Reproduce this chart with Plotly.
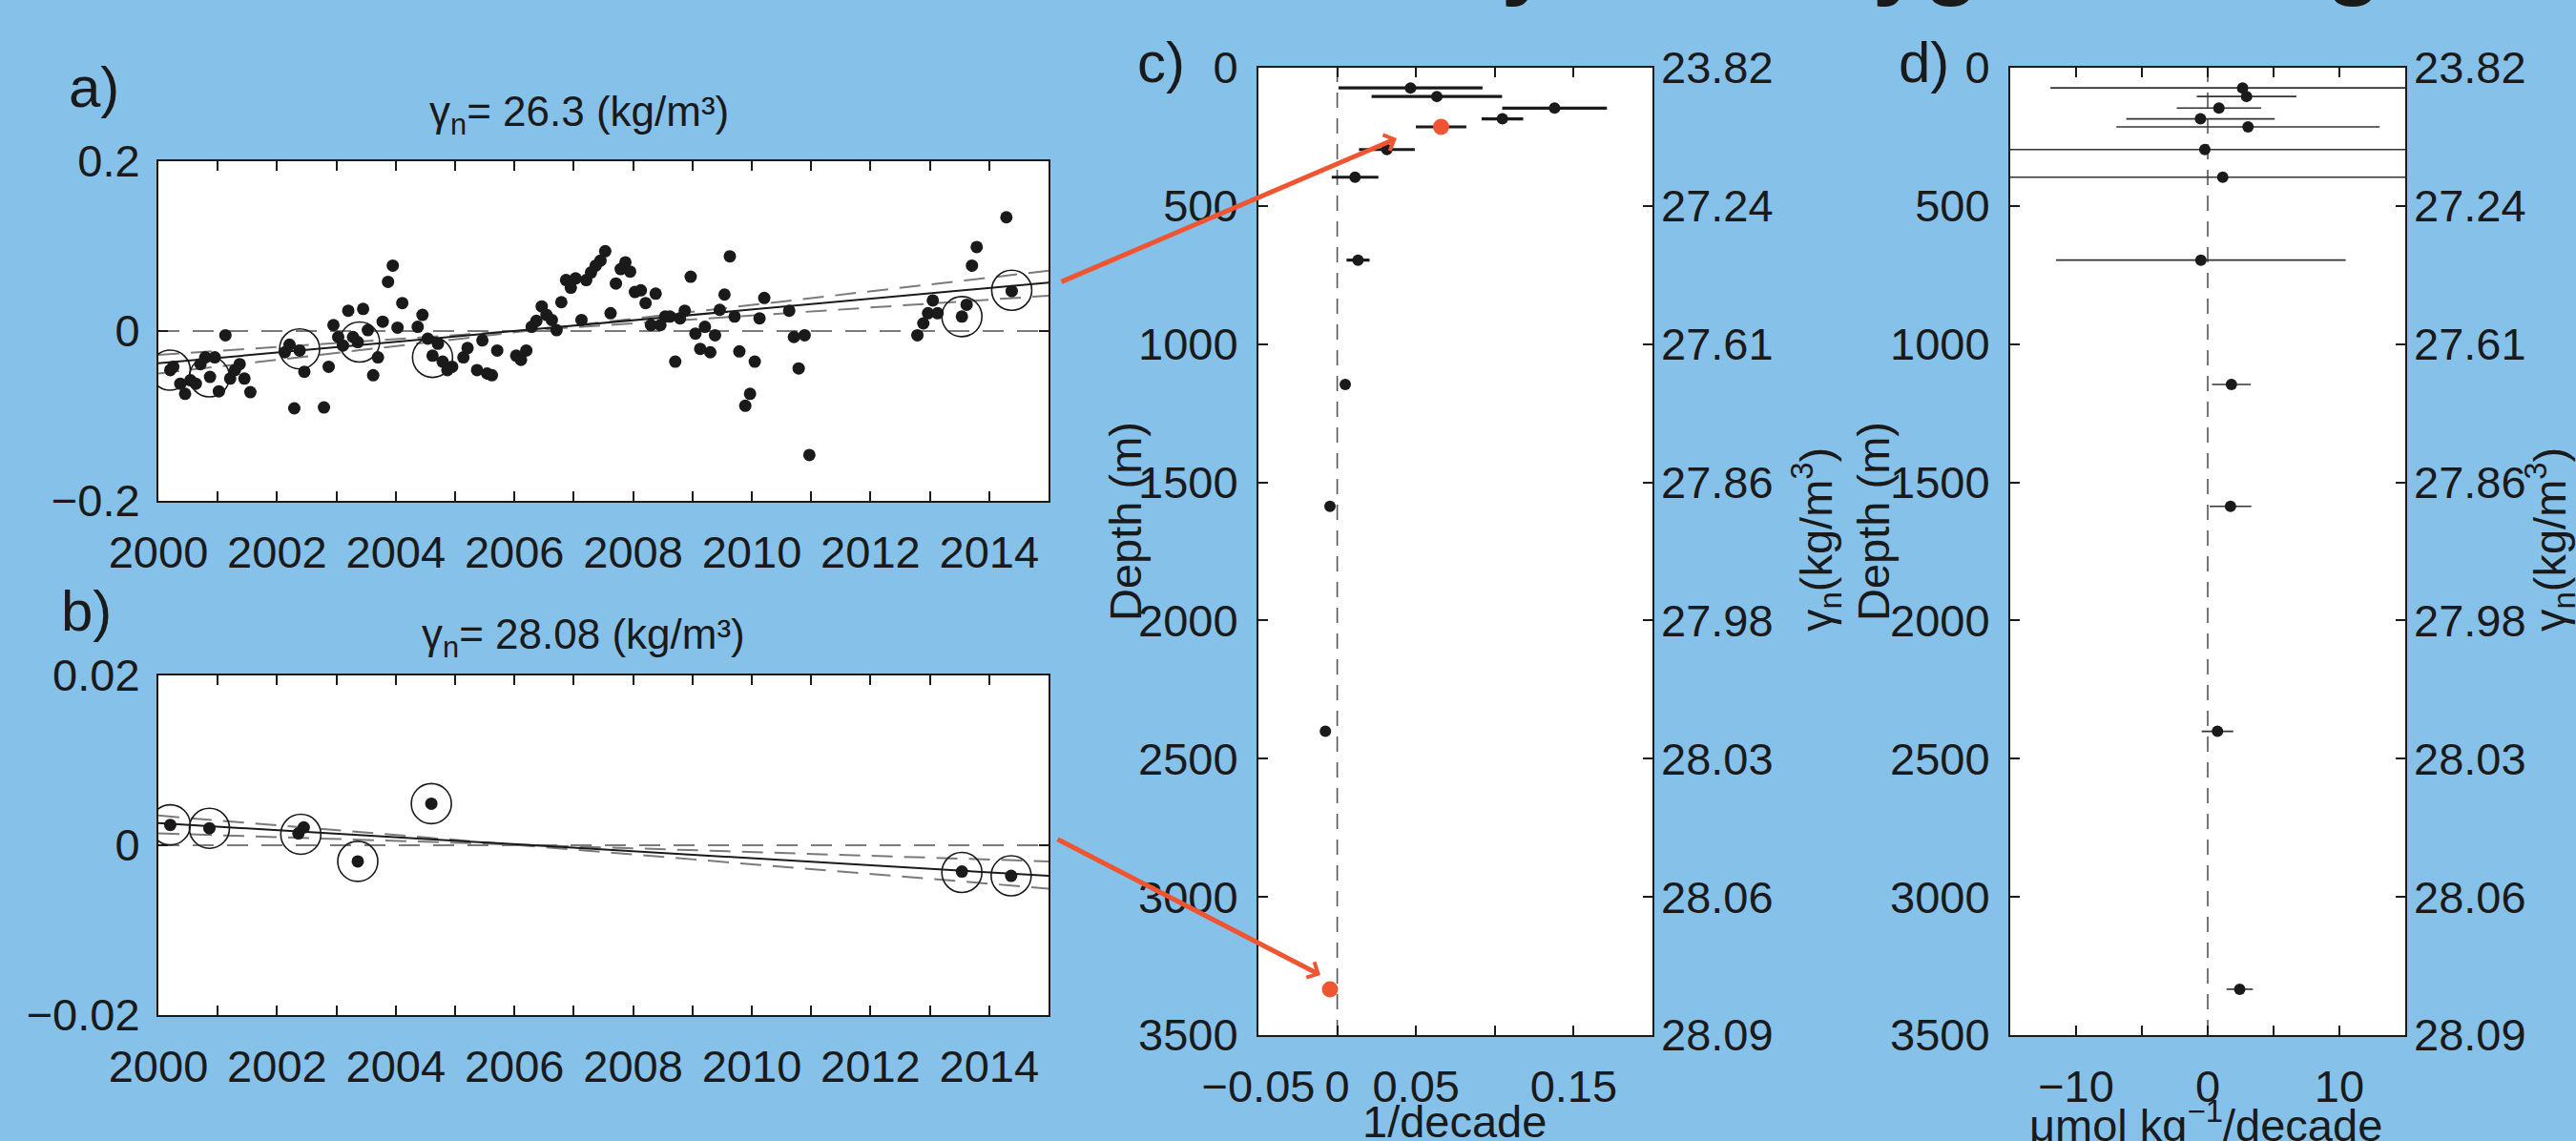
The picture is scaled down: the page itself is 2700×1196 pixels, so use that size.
import plotly.graph_objects as go

W, H = 2700, 1196
FONT = "Liberation Sans, Arial, Helvetica, sans-serif"
INK = "#1a1a1a"
BG = "#86C1EA"
RED = "#EE5530"

# ---------------- Panel a : gamma_n = 26.3 ----------------
a_years = [2000.20, 2000.25, 2000.37, 2000.45, 2000.54, 2000.63, 2000.71, 2000.79, 2000.87, 2000.95,
           2001.02, 2001.13, 2001.21, 2001.29, 2001.37, 2001.45, 2001.55, 2002.13, 2002.21, 2002.29,
           2002.38, 2002.46, 2002.79, 2002.87, 2002.95, 2003.03, 2003.11, 2003.20, 2003.28, 2003.36,
           2003.45, 2003.53, 2003.62, 2003.70, 2003.78, 2003.87, 2003.95, 2004.03, 2004.11, 2004.37,
           2004.45, 2004.54, 2004.62, 2004.71, 2004.79, 2004.87, 2004.95, 2005.14, 2005.21, 2005.37,
           2005.46, 2005.54, 2005.62, 2005.71, 2006.03, 2006.11, 2006.20, 2006.29, 2006.37, 2006.46,
           2006.54, 2006.63, 2006.71, 2006.79, 2006.87, 2006.95, 2007.03, 2007.13, 2007.21, 2007.29,
           2007.37, 2007.45, 2007.53, 2007.62, 2007.71, 2007.79, 2007.87, 2007.95, 2008.03, 2008.13,
           2008.21, 2008.30, 2008.38, 2008.46, 2008.54, 2008.62, 2008.71, 2008.79, 2008.87, 2008.97,
           2009.05, 2009.13, 2009.21, 2009.30, 2009.38, 2009.46, 2009.54, 2009.63, 2009.71, 2009.79,
           2009.89, 2009.97, 2010.05, 2010.13, 2010.21, 2010.63, 2010.71, 2010.79, 2010.89, 2010.97,
           2012.79, 2012.89, 2012.97, 2013.05, 2013.13, 2013.54, 2013.62, 2013.71, 2013.79, 2014.29, 2014.38]
a_vals = [-0.046, -0.042, -0.062, -0.074, -0.058, -0.062, -0.039, -0.031, -0.054, -0.031,
          -0.071, -0.005, -0.056, -0.046, -0.039, -0.056, -0.072, -0.025, -0.016, -0.091,
          -0.023, -0.048, -0.090, -0.042, 0.007, -0.007, -0.017, 0.024, -0.007, -0.013,
          0.026, 0.001, -0.052, -0.031, 0.011, 0.058, 0.077, 0.004, 0.033, 0.005,
          0.019, -0.009, -0.029, -0.015, -0.036, -0.046, -0.042, -0.031, -0.020, -0.046,
          -0.011, -0.050, -0.052, -0.023, -0.029, -0.034, -0.023, 0.005, 0.012, 0.029,
          0.019, 0.013, 0.001, 0.034, 0.060, 0.051, 0.062, 0.013, 0.060, 0.069,
          0.077, 0.083, 0.094, 0.021, 0.056, 0.073, 0.081, 0.070, 0.046, 0.048,
          0.033, 0.007, 0.044, 0.007, 0.017, 0.017, -0.036, 0.015, 0.024, 0.064,
          -0.003, -0.021, 0.005, -0.025, -0.005, 0.025, 0.043, 0.088, 0.017, -0.024,
          -0.088, -0.074, -0.036, 0.015, 0.039, 0.024, -0.007, -0.044, -0.005, -0.146,
          -0.005, 0.009, 0.021, 0.036, 0.021, 0.017, 0.031, 0.077, 0.099, 0.134, 0.047]
a_circle_years = [2000.20, 2000.86, 2002.38, 2003.39, 2004.62, 2013.54, 2014.38]
a_circle_vals = [-0.046, -0.054, -0.021, -0.013, -0.031, 0.017, 0.048]
trend_years = [2000, 2015]
a_trend = [-0.038, 0.057]
a_bound1 = [-0.028, 0.0416]
a_bound2 = [-0.050, 0.071]

# ---------------- Panel b : gamma_n = 28.08 ----------------
b_years = [2000.20, 2000.86, 2002.36, 2002.45, 2003.36, 2004.60, 2013.54, 2014.37]
b_vals = [0.0024, 0.0020, 0.0014, 0.0021, -0.0019, 0.0049, -0.0031, -0.0036]
b_circle_years = [2000.20, 2000.86, 2002.40, 2003.36, 2004.60, 2013.54, 2014.37]
b_circle_vals = [0.0024, 0.0020, 0.0013, -0.0019, 0.0049, -0.0032, -0.0036]
b_trend = [0.0026, -0.0036]
b_bound1 = [0.0035, -0.0051]
b_bound2 = [0.0014, -0.0019]

year_ticks = list(range(2000, 2016))
year_labels = [str(y) if (y % 2 == 0 and y < 2015) else "" for y in year_ticks]

# ---------------- Panels c, d : trends vs depth ----------------
depth = [73, 104, 146, 185, 214, 296, 396, 696, 1146, 1587, 2401, 3334]
highlight = [0, 0, 0, 0, 1, 0, 0, 0, 0, 0, 0, 1]
c_trend = [0.0465, 0.0632, 0.1379, 0.1048, 0.0659, 0.0315, 0.0113, 0.0132, 0.0051, -0.0046, -0.0075, -0.0046]
c_err = [0.0457, 0.0414, 0.0332, 0.0132, 0.0160, 0.0177, 0.0148, 0.0073, 0.0, 0.0, 0.0, 0.0012]
d_trend = [2.65, 2.95, 0.85, -0.55, 3.06, -0.22, 1.14, -0.52, 1.80, 1.73, 0.74, 2.43]
d_err = [14.6, 3.78, 3.2, 5.64, 10.0, 25.0, 25.0, 11.0, 1.47, 1.58, 1.2, 1.0]

depth_ticks = [0, 500, 1000, 1500, 2000, 2500, 3000, 3500]
gamma_labels = ["23.82", "27.24", "27.61", "27.86", "27.98", "28.03", "28.06", "28.09"]
c_xticks = [-0.05, 0, 0.05, 0.1, 0.15]
c_xlabels = ["\u22120.05", "0", "0.05", "", "0.15"]
d_xticks = [-10, -5, 0, 5, 10]
d_xlabels = ["\u221210", "", "0", "", "10"]


def px_x(p):
    return p / W


def px_y(p):
    return 1 - p / H


fig = go.Figure()

dash_gray = dict(color="#7a7a7a", width=2, dash="22px,12px")

# panel a traces
for b in (a_bound1, a_bound2):
    fig.add_trace(go.Scatter(x=trend_years, y=b, mode="lines", line=dash_gray,
                             xaxis="x", yaxis="y", hoverinfo="skip"))
fig.add_trace(go.Scatter(x=trend_years, y=a_trend, mode="lines", line=dict(color=INK, width=2),
                         xaxis="x", yaxis="y"))
fig.add_trace(go.Scatter(x=a_years, y=a_vals, mode="markers",
                         marker=dict(color=INK, size=13, line=dict(width=0)), xaxis="x", yaxis="y"))
fig.add_trace(go.Scatter(x=a_circle_years, y=a_circle_vals, mode="markers",
                         marker=dict(symbol="circle-open", color=INK, size=42, line=dict(width=1.6, color=INK)),
                         xaxis="x", yaxis="y"))

# panel b traces
for b in (b_bound1, b_bound2):
    fig.add_trace(go.Scatter(x=trend_years, y=b, mode="lines", line=dash_gray,
                             xaxis="x2", yaxis="y2", hoverinfo="skip"))
fig.add_trace(go.Scatter(x=trend_years, y=b_trend, mode="lines", line=dict(color=INK, width=2),
                         xaxis="x2", yaxis="y2"))
fig.add_trace(go.Scatter(x=b_years, y=b_vals, mode="markers",
                         marker=dict(color=INK, size=13, line=dict(width=0)), xaxis="x2", yaxis="y2"))
fig.add_trace(go.Scatter(x=b_circle_years, y=b_circle_vals, mode="markers",
                         marker=dict(symbol="circle-open", color=INK, size=42, line=dict(width=1.6, color=INK)),
                         xaxis="x2", yaxis="y2"))

# panel c traces
c_black = [i for i, h in enumerate(highlight) if not h]
c_red = [i for i, h in enumerate(highlight) if h]
fig.add_trace(go.Scatter(x=[c_trend[i] for i in c_black], y=[depth[i] for i in c_black], mode="markers",
                         marker=dict(color=INK, size=12, line=dict(width=0)),
                         error_x=dict(type="data", array=[c_err[i] for i in c_black], color=INK,
                                      thickness=3.2, width=0),
                         xaxis="x3", yaxis="y3"))
fig.add_trace(go.Scatter(x=[c_trend[i] for i in c_red], y=[depth[i] for i in c_red], mode="markers",
                         marker=dict(color=RED, size=17, line=dict(width=0)),
                         error_x=dict(type="data", array=[c_err[i] for i in c_red], color=INK,
                                      thickness=3.2, width=0),
                         xaxis="x3", yaxis="y3"))
fig.add_trace(go.Scatter(x=[0], y=[0], mode="markers", marker=dict(opacity=0), hoverinfo="skip",
                         xaxis="x3", yaxis="y5"))

# panel d traces
fig.add_trace(go.Scatter(x=d_trend, y=depth, mode="markers",
                         marker=dict(color=INK, size=12, line=dict(width=0)),
                         error_x=dict(type="data", array=d_err, color="#333333", thickness=1.6, width=0),
                         xaxis="x4", yaxis="y4"))
fig.add_trace(go.Scatter(x=[0], y=[0], mode="markers", marker=dict(opacity=0), hoverinfo="skip",
                         xaxis="x4", yaxis="y6"))

tickfont = dict(family=FONT, size=47, color=INK)
base = dict(showline=True, linecolor=INK, linewidth=2, mirror="ticks", ticks="inside", ticklen=10,
            tickwidth=2, tickcolor=INK, showgrid=False, zeroline=False, tickfont=tickfont, fixedrange=True,
            automargin=False)

xa = [px_x(166), px_x(1099)]
ya = [px_y(525), px_y(169)]
yb = [px_y(1064), px_y(708)]
xc = [px_x(1319), px_x(1732)]
xd = [px_x(2107), px_x(2521)]
ycd = [px_y(1085), px_y(71)]

fig.update_layout(
    template="none",
    width=W, height=H,
    margin=dict(l=0, r=0, t=0, b=0, pad=0),
    paper_bgcolor=BG, plot_bgcolor="white",
    showlegend=False,
    font=dict(family=FONT, color=INK),
    xaxis=dict(base, domain=xa, anchor="y", range=[2000, 2015], tickvals=year_ticks, ticktext=year_labels,
               ticklabelstandoff=12),
    yaxis=dict(base, domain=ya, anchor="x", range=[-0.2, 0.2], tickvals=[-0.2, 0, 0.2],
               ticktext=["\u22120.2", "0", "0.2"], ticklabelstandoff=8),
    xaxis2=dict(base, domain=xa, anchor="y2", range=[2000, 2015], tickvals=year_ticks, ticktext=year_labels,
                ticklabelstandoff=12),
    yaxis2=dict(base, domain=yb, anchor="x2", range=[-0.02, 0.02], tickvals=[-0.02, 0, 0.02],
                ticktext=["\u22120.02", "0", "0.02"], ticklabelstandoff=8),
    xaxis3=dict(base, domain=xc, anchor="y3", range=[-0.05, 0.2], tickvals=c_xticks, ticktext=c_xlabels,
                ticklabelstandoff=12),
    yaxis3=dict(base, domain=ycd, anchor="x3", range=[3500, 0], tickvals=depth_ticks,
                ticklabelstandoff=10),
    yaxis5=dict(base, overlaying="y3", side="right", anchor="x3", range=[3500, 0], tickvals=depth_ticks,
                ticktext=gamma_labels, showline=False, mirror=False, ticklabelstandoff=8),
    xaxis4=dict(base, domain=xd, anchor="y4", range=[-15, 15], tickvals=d_xticks, ticktext=d_xlabels,
                ticklabelstandoff=12),
    yaxis4=dict(base, domain=ycd, anchor="x4", range=[3500, 0], tickvals=depth_ticks,
                ticklabelstandoff=10),
    yaxis6=dict(base, overlaying="y4", side="right", anchor="x4", range=[3500, 0], tickvals=depth_ticks,
                ticktext=gamma_labels, showline=False, mirror=False, ticklabelstandoff=8),
)

# reference lines
zero_dash = dict(color="#7a7a7a", width=2, dash="22px,14px")
fig.add_shape(type="line", xref="x domain", yref="y", x0=0, x1=1, y0=0, y1=0, line=zero_dash, layer="below")
fig.add_shape(type="line", xref="x2 domain", yref="y2", x0=0, x1=1, y0=0, y1=0, line=zero_dash, layer="below")
vdash = dict(color="#555555", width=1.6, dash="16px,11px")
fig.add_shape(type="line", xref="x3", yref="y3 domain", x0=0, x1=0, y0=0, y1=1, line=vdash, layer="below")
fig.add_shape(type="line", xref="x4", yref="y4 domain", x0=0, x1=0, y0=0, y1=1, line=vdash, layer="below")


def ann(text, x, y, size, xanchor="center", yanchor="middle", angle=0, **kw):
    fig.add_annotation(text=text, x=px_x(x), y=px_y(y), xref="paper", yref="paper",
                       xanchor=xanchor, yanchor=yanchor, textangle=angle, showarrow=False,
                       font=dict(family=FONT, size=size, color=INK), **kw)


ann("a)", 70, 92, 60, xanchor="left")
ann("b)", 62, 640, 60, xanchor="left")
ann("c)", 1190, 66, 60, xanchor="left")
ann("d)", 1988, 66, 60, xanchor="left")
ann("\u03b3<sub>n</sub>= 26.3 (kg/m\u00b3)", 607, 120, 44)
ann("\u03b3<sub>n</sub>= 28.08 (kg/m\u00b3)", 611, 668, 44)
ann("Depth (m)", 1179, 547, 47, angle=-90)
ann("\u03b3<sub>n</sub>(kg/m<sup>3</sup>)", 1903, 566, 47, angle=-90)
ann("Depth (m)", 1963, 547, 47, angle=-90)
ann("\u03b3<sub>n</sub>(kg/m<sup>3</sup>)", 2672, 566, 47, angle=-90)
ann("1/decade", 1525, 1175, 47)
ann("\u03bcmol kg<sup>\u22121</sup>/decade", 2312, 1176, 47)

# large slide title, mostly above the visible area (tall box keeps it rendered)
fig.add_annotation(text="<b>Density and oxygen changes</b>", x=px_x(1278), y=1, xref="paper", yref="paper",
                   xanchor="left", yanchor="top", yshift=102, height=220, valign="top", showarrow=False,
                   font=dict(family=FONT, size=96, color=INK))

# red arrows linking panels
for tip, tail in (((1464, 145), (1111, 296)), ((1384, 1022), (1107, 879))):
    fig.add_annotation(text="", x=px_x(tip[0]), y=px_y(tip[1]), xref="paper", yref="paper",
                       ax=tail[0] - tip[0], ay=tail[1] - tip[1], axref="pixel", ayref="pixel",
                       showarrow=True, arrowhead=4, arrowsize=0.7, arrowwidth=5, arrowcolor=RED)

fig.write_html("out.html", include_plotlyjs=True, config={"displayModeBar": False, "responsive": False})
